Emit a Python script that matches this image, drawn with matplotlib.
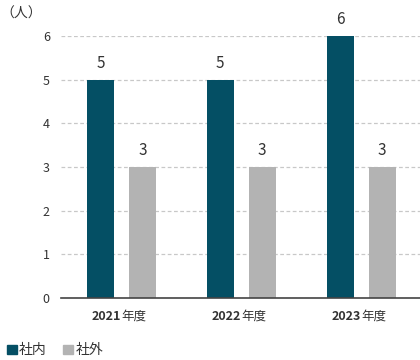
import matplotlib.pyplot as plt
import numpy as np
from matplotlib.patches import Patch
from matplotlib.transforms import blended_transform_factory

plt.rcParams["font.family"] = ["Noto Sans CJK JP", "DejaVu Sans"]

year_numbers = ["2021", "2022", "2023"]
year_suffix = "年度"
internal = [5, 5, 6]
external = [3, 3, 3]
series_names = ["社内", "社外"]
y_ticks = [0, 1, 2, 3, 4, 5, 6]

DARK = "#044f64"
GREY = "#b3b3b3"
TEXT = "#333333"

figure = plt.figure(figsize=(4.2, 3.6), dpi=100)
axis = figure.add_axes([0.145, 0.172, 0.855, 0.728])

x = np.arange(len(year_numbers))
offset = 0.175
width = 0.225

axis.bar(x - offset, internal, width, color=DARK, zorder=3)
axis.bar(x + offset, external, width, color=GREY, zorder=3)

for xi, value in zip(x - offset, internal):
    axis.text(xi, value + 0.18, str(value), ha="center", va="bottom",
              fontsize=11, color=TEXT)
for xi, value in zip(x + offset, external):
    axis.text(xi, value + 0.18, str(value), ha="center", va="bottom",
              fontsize=11, color=TEXT)

axis.set_xlim(-0.504, 2.49)
axis.set_ylim(0, 6)
axis.set_yticks(y_ticks)
axis.set_yticklabels([str(v) for v in y_ticks], fontsize=9, color=TEXT)
axis.set_xticks(x)
axis.set_xticklabels([])
axis.tick_params(axis="both", length=0)
axis.tick_params(axis="y", pad=8)

# year labels: bold digits, regular suffix
label_transform = blended_transform_factory(axis.transData, figure.transFigure)
for xi, number in zip(x, year_numbers):
    axis.text(xi, 0.122, number, transform=label_transform,
              ha="right", va="center", fontsize=9, fontweight="bold",
              color=TEXT)
    axis.text(xi, 0.122, year_suffix, transform=label_transform,
              ha="left", va="center", fontsize=9, color=TEXT)

axis.grid(axis="y", color="#c8c8c8", linestyle=(0, (3, 2)), linewidth=0.9,
          zorder=0)
for name in ["left", "right", "top"]:
    axis.spines[name].set_visible(False)
axis.spines["bottom"].set_color("#444444")
axis.spines["bottom"].set_linewidth(1.2)
axis.spines["bottom"].set_zorder(4)

figure.text(0.0, 0.962, "（人）", fontsize=10, color=TEXT, va="center",
            ha="left")

handles = [Patch(color=DARK), Patch(color=GREY)]
figure.legend(handles, series_names, loc="lower left",
              bbox_to_anchor=(0.0, -0.012), ncol=2, frameon=False,
              fontsize=10, handlelength=0.72, handleheight=0.72,
              handletextpad=0.15, columnspacing=1.2, borderaxespad=0.1,
              labelcolor=TEXT)

figure.savefig("out.png", dpi=100)
